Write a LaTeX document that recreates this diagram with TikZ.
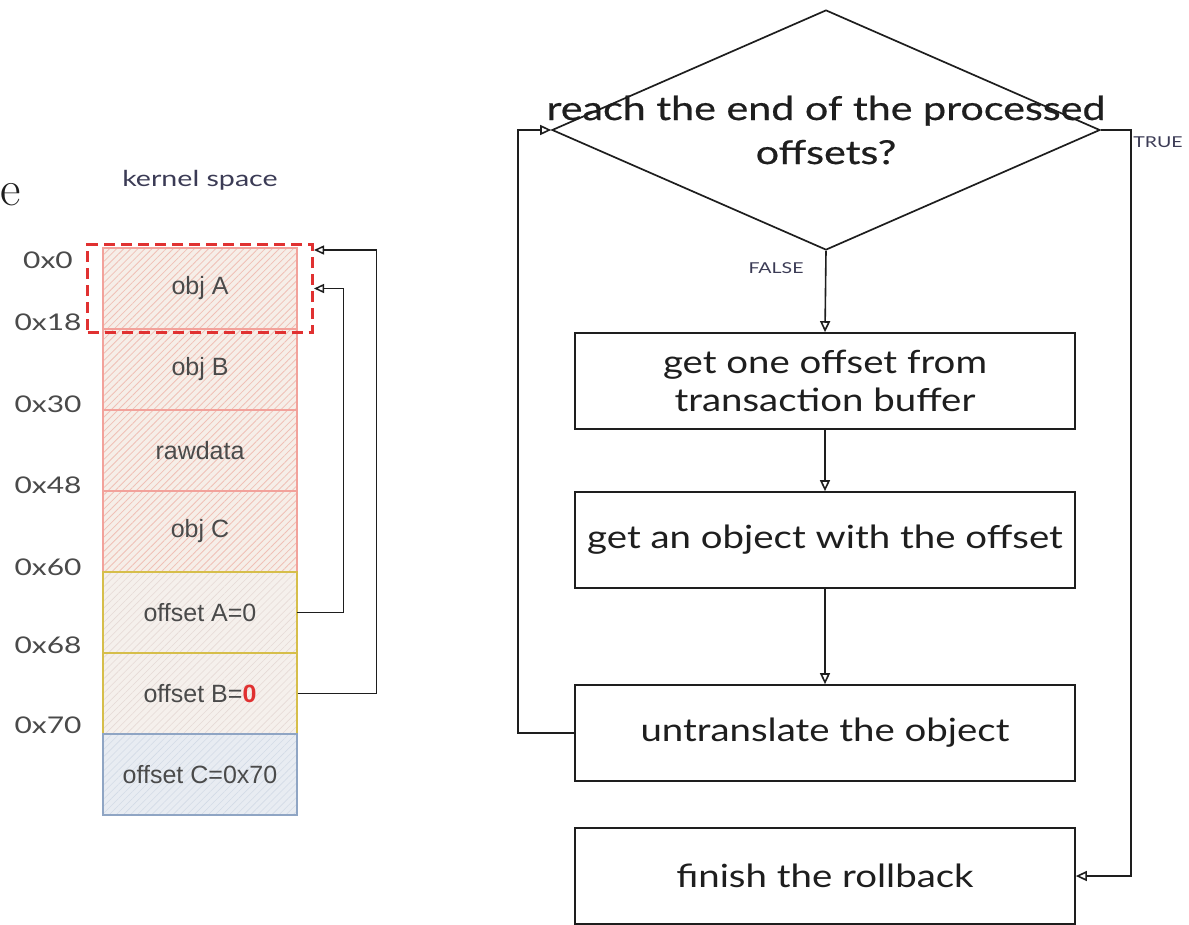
\documentclass[tikz,border=0pt]{standalone}
\usepackage{fontspec}
\newfontfamily\arial{Liberation Sans}
\newfontfamily\hand[FakeStretch=1.25,FakeBold=0.6]{Lato}
\newfontfamily\handstep[FakeStretch=1.2]{Lato}
\newfontfamily\handlight[FakeStretch=1.3]{Lato}
\usetikzlibrary{arrows.meta,patterns.meta,shapes.geometric,fit}

\definecolor{ink}{HTML}{1E1E1E}
\definecolor{labelink}{HTML}{3B3B55}
\definecolor{redline}{HTML}{F2A29B}
\definecolor{redfill}{HTML}{F6EEE8}
\definecolor{redhatch}{HTML}{F0C0B6}
\definecolor{yelline}{HTML}{D6BE4A}
\definecolor{yelfill}{HTML}{F5F0EC}
\definecolor{yelhatch}{HTML}{E6DAD6}
\definecolor{blueline}{HTML}{8FA5C4}
\definecolor{bluefill}{HTML}{E8ECF2}
\definecolor{bluehatch}{HTML}{D3DBE6}
\definecolor{selred}{HTML}{E03131}
\definecolor{cellink}{HTML}{4A4A4A}

\tikzset{
  cell/.style={rectangle, minimum width=194pt, minimum height=81pt, inner sep=0pt,
    line width=1.2pt, font=\arial\fontsize{25}{28}\selectfont, text=cellink},
  objcell/.style={cell, draw=redline, preaction={fill=redfill},
    pattern={Lines[angle=45,distance=5pt,line width=0.8pt]}, pattern color=redhatch},
  offcell/.style={cell, draw=yelline, preaction={fill=yelfill},
    pattern={Lines[angle=45,distance=5pt,line width=0.6pt]}, pattern color=yelhatch},
  bluecell/.style={cell, draw=blueline, preaction={fill=bluefill},
    pattern={Lines[angle=45,distance=5pt,line width=0.6pt]}, pattern color=bluehatch},
  addr/.style={font=\handlight\fontsize{23}{26}\selectfont, text=cellink},
  selbox/.style={draw=selred, line width=3.2pt, dash pattern=on 11pt off 6pt, inner sep=0pt},
  link/.style={draw=ink, line width=1.5pt, -{Triangle[open,length=10pt,width=9pt]}},
  flow/.style={draw=ink, line width=1.6pt, -{Triangle[open,length=11pt,width=10pt]}},
  stepbox/.style={rectangle, draw=ink, line width=1.7pt, minimum width=500pt,
    minimum height=96pt, inner sep=1pt, align=center,
    font=\handstep\fontsize{32}{38}\selectfont, text=ink},
  decision/.style={diamond, draw=ink, line width=1.7pt, inner sep=0pt,
    minimum width=548pt, minimum height=240pt},
  branch/.style={font=\handlight\fontsize{15}{17}\selectfont, text=labelink},
}

\begin{document}
\begin{tikzpicture}[x=1pt,y=-1pt]
\useasboundingbox (0,0) rectangle (1189,924);

% stray glyph at the left edge
\node[anchor=base, font=\fontsize{50}{54}\selectfont, text=ink] (stray) at (11,205) {e};

% memory layout of the kernel buffer
\node[font=\handlight\fontsize{22}{26}\selectfont, text=labelink] (title) at (200,180) {kernel space};

\node[objcell]  (cA)  at (200,288.5) {obj A};
\node[objcell]  (cB)  at (200,369.5) {obj B};
\node[objcell]  (cR)  at (200,450.5) {rawdata};
\node[objcell]  (cC)  at (200,531.5) {obj C};
\node[offcell]  (cOA) at (200,612.5) {offset A=0};
\node[offcell]  (cOB) at (200,693.5) {offset B={\color{selred}\bfseries 0}};
\node[bluecell] (cOC) at (200,774.5) {offset C=0x70};

% address marks
\node[addr] (a0)  at (48,260) {0x0};
\node[addr] (a18) at (48,322) {0x18};
\node[addr] (a30) at (48,404) {0x30};
\node[addr] (a48) at (48,485) {0x48};
\node[addr] (a60) at (48,567) {0x60};
\node[addr] (a68) at (48,645) {0x68};
\node[addr] (a70) at (48,725) {0x70};

% selected object
\node[selbox, fit=(cA), inner xsep=15pt, inner ysep=3pt] (sel) {};

% offsets pointing back into the buffer
\draw[link] (cOA.east) -- ++(46,0) |- (sel.east);
\draw[link] (cOB.east) -- ++(79,0) |- ([yshift=-7pt]sel.north east);

% rollback flow
\node[decision] (dec) at (826,130) {};
\node[font=\hand\fontsize{33}{44}\selectfont, text=ink, align=center]
  (dectext) at (dec.center) {reach the end of the processed\\offsets?};

\node[stepbox] (b1) at (825,381) {get one offset from\\transaction buffer};
\node[stepbox] (b2) at (825,540) {get an object with the offset};
\node[stepbox] (b3) at (825,733) {untranslate the object};
\node[stepbox] (b4) at (825,876) {finish the rollback};

\draw[flow] (dec.south) -- (b1.north);
\draw[flow] (b1.south) -- (b2.north);
\draw[flow] (b2.south) -- (b3.north);
\draw[flow] (b3.west) -- ++(-56,0) |- (dec.west);
\draw[flow] (dec.east) -- ++(30,0) |- (b4.east);

\node[branch] (lfalse) at (776,268) {FALSE};
\node[branch] (ltrue)  at (1158,142) {TRUE};
\end{tikzpicture}
\end{document}
